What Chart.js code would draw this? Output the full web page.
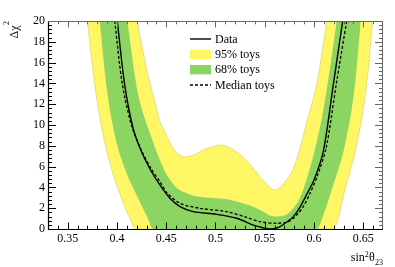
<!DOCTYPE html>
<html><head><meta charset="utf-8">
<script src="https://cdn.jsdelivr.net/npm/chart.js@4.4.1/dist/chart.umd.min.js"></script>
<style>html,body{margin:0;padding:0;background:#fff;}canvas{display:block;}</style>
</head><body>
<canvas id="c" width="395" height="267"></canvas>
<script>
// ---- data ----
const xTickValues = [0.35, 0.40, 0.45, 0.50, 0.55, 0.60, 0.65];
const yTickValues = [0, 2, 4, 6, 8, 10, 12, 14, 16, 18, 20];
const seriesLabels = ['Data', '95% toys', '68% toys', 'Median toys'];

// observed Δχ² curve
const dataX = [0.4003,0.4078,0.4163,0.4247,0.4348,0.4434,0.4538,0.4640,0.4775,0.5012,0.5215,0.5384,0.5450,0.5520,0.5580,0.5650,0.5705,0.5790,0.5858,0.5935,0.6000,0.6094,0.6196,0.6291];
const dataY = [20,13.88,9.71,7.47,5.55,4.26,2.95,2.15,1.67,1.41,1.03,0.38,0.20,0.04,0.00,0.20,0.55,1.19,2.10,3.50,4.70,7.47,13.90,20];

// median of toys
const medianX = [0.3977,0.4055,0.4150,0.4247,0.4350,0.4440,0.4505,0.4640,0.4843,0.5114,0.5317,0.5452,0.5621,0.5739,0.5824,0.5891,0.5959,0.6030,0.6125,0.6225,0.6332];
const medianY = [20,13.88,9.90,7.60,5.75,4.50,3.50,2.47,1.99,1.67,1.12,0.70,0.55,0.70,1.35,2.15,3.43,5.00,7.90,13.90,20];

// 95% band: lower and upper edges
const lower95X = [0.3699,0.3774,0.3858,0.3942,0.4044,0.4145,0.4186,0.6196,0.6320,0.6433,0.6535,0.6595];
const lower95Y = [20,13.90,9.07,5.87,2.98,0.74,0,0,4.00,8.10,13.90,20];
const upper95X = [0.4206,0.4298,0.4383,0.4437,0.4484,0.4538,0.4600,0.4673,0.4770,0.4900,0.5046,0.5150,0.5270,0.5370,0.5480,0.5604,0.5700,0.5780,0.5850,0.5926,0.6027,0.6129];
const upper95Y = [20,15.50,12.30,10.30,9.40,8.30,7.40,6.95,7.10,7.70,8.08,7.80,7.00,6.00,4.70,3.75,4.50,5.60,7.50,10.30,13.90,20];

// 68% band: lower and upper edges
const lower68X = [0.3825,0.3892,0.3977,0.4078,0.4213,0.4300,0.4370,0.6030,0.6100,0.6196,0.6314,0.6416,0.6474];
const lower68Y = [20,13.88,9.07,5.87,2.98,1.30,0,0,1.50,4.26,8.10,13.90,20];
const upper68X = [0.4105,0.4196,0.4250,0.4315,0.4450,0.4520,0.4606,0.4690,0.4775,0.4950,0.5114,0.5250,0.5384,0.5460,0.5553,0.5640,0.5722,0.5790,0.5858,0.5926,0.6000,0.6078,0.6155,0.6230];
const upper68Y = [20,13.88,11.60,9.71,6.30,5.00,3.95,3.50,3.20,3.00,2.85,2.55,2.15,1.80,1.30,1.20,1.40,2.00,3.00,4.80,7.30,10.60,15.00,20];

const YELLOW = '#fff666';
const GREEN = '#8dd563';
const EDGE = 'rgba(200,185,90,0.55)';
const FONT = '"Liberation Serif", "Times New Roman", serif';

function pts(xs, ys) { return xs.map((v, i) => ({x: v, y: ys[i]})); }

const decorPlugin = {
  id: 'decor',
  afterDraw(chart) {
    const {ctx, chartArea: a, scales: {x, y}} = chart;
    ctx.save();
    ctx.lineWidth = 1;
    for (let i = 34; i <= 66; i++) {
      const px = Math.round(x.getPixelForValue(i / 100)) + 0.5;
      const major = i % 5 === 0;
      const len = major ? 6.5 : 3.3;
      ctx.strokeStyle = '#000';
      ctx.beginPath(); ctx.moveTo(px, a.bottom); ctx.lineTo(px, a.bottom - len); ctx.stroke();
      ctx.strokeStyle = '#666';
      ctx.beginPath(); ctx.moveTo(px, a.top); ctx.lineTo(px, a.top + len); ctx.stroke();
    }
    for (let i = 0; i <= 50; i++) {
      const py = Math.round(y.getPixelForValue(i * 0.4)) + 0.5;
      const major = i % 5 === 0;
      const len = major ? 8 : 4;
      ctx.strokeStyle = '#000';
      ctx.beginPath(); ctx.moveTo(a.left, py); ctx.lineTo(a.left + len, py); ctx.stroke();
      ctx.strokeStyle = '#666';
      ctx.beginPath(); ctx.moveTo(a.right, py); ctx.lineTo(a.right - len, py); ctx.stroke();
    }
    ctx.strokeStyle = '#000';
    ctx.lineWidth = 1.2;
    ctx.beginPath();
    ctx.moveTo(a.left + 0.5, a.top); ctx.lineTo(a.left + 0.5, a.bottom + 0.5); ctx.lineTo(a.right, a.bottom + 0.5);
    ctx.stroke();
    ctx.strokeStyle = '#666';
    ctx.lineWidth = 1;
    ctx.beginPath();
    ctx.moveTo(a.left, a.top + 0.5); ctx.lineTo(a.right - 0.5, a.top + 0.5); ctx.lineTo(a.right - 0.5, a.bottom);
    ctx.stroke();

    // legend
    const lx0 = 190, lx1 = 211, tx = 215;
    const rows = [39, 54.3, 69.7, 85];
    ctx.fillStyle = '#000';
    ctx.font = '12px ' + FONT;
    ctx.textAlign = 'left';
    ctx.textBaseline = 'middle';
    ctx.strokeStyle = '#000'; ctx.lineWidth = 1.4; ctx.setLineDash([]);
    ctx.beginPath(); ctx.moveTo(lx0, rows[0]); ctx.lineTo(lx1, rows[0]); ctx.stroke();
    ctx.fillText(seriesLabels[0], tx, rows[0] + 0.5);
    ctx.fillStyle = YELLOW; ctx.fillRect(lx0, rows[1] - 4.7, lx1 - lx0, 9.4);
    ctx.fillStyle = '#000'; ctx.fillText(seriesLabels[1], tx, rows[1] + 0.5);
    ctx.fillStyle = GREEN; ctx.fillRect(lx0, rows[2] - 4.7, lx1 - lx0, 9.4);
    ctx.fillStyle = '#000'; ctx.fillText(seriesLabels[2], tx, rows[2] + 0.5);
    ctx.setLineDash([3, 2]); ctx.lineWidth = 1.3;
    ctx.beginPath(); ctx.moveTo(lx0, rows[3]); ctx.lineTo(lx1, rows[3]); ctx.stroke();
    ctx.setLineDash([]);
    ctx.fillText(seriesLabels[3], tx, rows[3] + 0.5);

    // x title: sin²θ23
    ctx.textBaseline = 'alphabetic';
    const big = '12px ' + FONT, small = '8px ' + FONT;
    ctx.font = big; const wSin = ctx.measureText('sin').width; const wTh = ctx.measureText('θ').width;
    ctx.font = small; const w2 = ctx.measureText('2').width; const w23 = ctx.measureText('23').width;
    const base = 261;
    let xs = a.right - (wSin + w2 + wTh + w23 + 0.5);
    ctx.font = big; ctx.fillText('sin', xs, base); xs += wSin;
    ctx.font = small; ctx.fillText('2', xs, base - 4.5); xs += w2 + 0.3;
    ctx.font = big; ctx.fillText('θ', xs, base); xs += wTh + 0.2;
    ctx.font = small; ctx.fillText('23', xs, base + 3.5);

    // y title: Δχ² (rotated)
    ctx.save();
    ctx.translate(17.5, a.top);
    ctx.rotate(-Math.PI / 2);
    ctx.font = big; const wDc = ctx.measureText('Δχ').width;
    ctx.font = small; const wS = ctx.measureText('2').width;
    ctx.textAlign = 'left';
    ctx.font = big; ctx.fillText('Δχ', -(wDc + wS + 0.5), 0);
    ctx.font = small; ctx.fillText('2', -wS, -9);
    ctx.restore();

    ctx.restore();
  }
};

// The bands are painted in layers: each edge is filled up to the top of the plot,
// outer edges first, so the region between nested edges keeps the right colour.
new Chart(document.getElementById('c'), {
  type: 'line',
  data: {
    datasets: [
      {label: seriesLabels[0], data: pts(dataX, dataY), borderColor: '#000', borderWidth: 1.4,
       pointRadius: 0, tension: 0.3, fill: false, order: 1},
      {label: seriesLabels[3], data: pts(medianX, medianY), borderColor: '#000', borderWidth: 1.3,
       borderDash: [3, 2], pointRadius: 0, tension: 0.3, fill: false, order: 2},
      {label: '95% toys (upper edge)', data: pts(upper95X, upper95Y), borderColor: EDGE, borderWidth: 0.8,
       backgroundColor: '#ffffff', fill: 'end', pointRadius: 0, tension: 0.3, order: 3},
      {label: '68% toys (upper edge)', data: pts(upper68X, upper68Y), borderColor: 'rgba(0,0,0,0)', borderWidth: 0,
       backgroundColor: YELLOW, fill: 'end', pointRadius: 0, tension: 0.3, order: 4},
      {label: seriesLabels[2], data: pts(lower68X, lower68Y), borderColor: 'rgba(0,0,0,0)', borderWidth: 0,
       backgroundColor: GREEN, fill: 'end', pointRadius: 0, cubicInterpolationMode: 'monotone', order: 5},
      {label: seriesLabels[1], data: pts(lower95X, lower95Y), borderColor: EDGE, borderWidth: 0.8,
       backgroundColor: YELLOW, fill: 'end', pointRadius: 0, cubicInterpolationMode: 'monotone', order: 6}
    ]
  },
  options: {
    responsive: false,
    animation: false,
    devicePixelRatio: 1,
    layout: {padding: {top: 21, right: 12, left: 0, bottom: 0}},
    plugins: {legend: {display: false}, tooltip: {enabled: false}},
    scales: {
      x: {
        type: 'linear', min: 0.33, max: 0.67,
        afterBuildTicks: s => { s.ticks = xTickValues.map(v => ({value: v})); },
        afterFit: s => { s.height = 38; },
        grid: {display: false, drawTicks: false},
        border: {display: false},
        ticks: {padding: 3, color: '#000', maxRotation: 0, autoSkip: false,
                font: {family: FONT, size: 12},
                callback: v => String(Number(Number(v).toFixed(2)))}
      },
      y: {
        type: 'linear', min: 0, max: 20,
        afterBuildTicks: s => { s.ticks = yTickValues.map(v => ({value: v})); },
        afterFit: s => { s.width = 48; },
        grid: {display: false, drawTicks: false},
        border: {display: false},
        ticks: {padding: 3, color: '#000', autoSkip: false,
                font: {family: FONT, size: 12},
                callback: v => String(v)}
      }
    }
  },
  plugins: [decorPlugin]
});
</script>
</body></html>
